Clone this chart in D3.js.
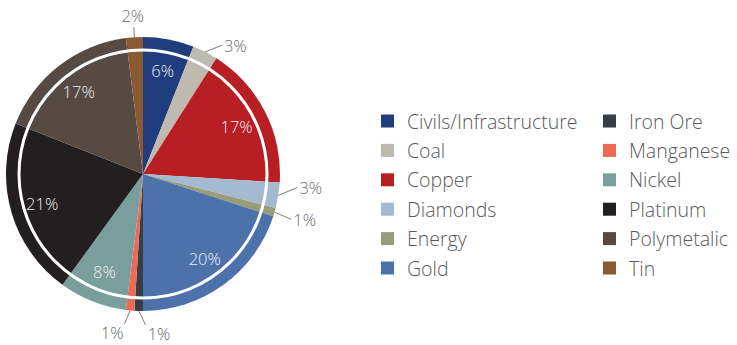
<!DOCTYPE html>
<html>
<head>
<meta charset="utf-8">
<style>
  body { margin: 0; background: #fff; }
  svg { display: block; font-family: "Open Sans", "Noto Sans", sans-serif; font-weight: 300; }
</style>
</head>
<body>
<svg width="737" height="345"></svg>
<script src="https://d3js.org/d3.v7.min.js"></script>
<script>

  var categories = ["Civils/Infrastructure", "Coal", "Copper", "Diamonds", "Energy", "Gold",
    "Iron Ore", "Manganese", "Nickel", "Platinum", "Polymetalic", "Tin"];
  var shares = [6, 3, 17, 3, 1, 20, 1, 1, 8, 21, 17, 2];
  var colors = ["#203d7e", "#bfbab0", "#b81f25", "#a3bad0", "#999c78", "#4d72ab",
    "#363f45", "#ee6a55", "#7a9e9c", "#231f20", "#574a42", "#8a5a35"];

  // slices whose label sits outside, with the angle (deg) the leader line points to
  var outsideLabels = { "Coal": 31.5, "Diamonds": 95, "Energy": 107, "Iron Ore": 179, "Manganese": 187, "Tin": 356.4 };

  var svg = d3.select("svg"),
    cx = 143, cy = 174,
    radius = 137,
    ringRadius = 124,
    labelRadius = 105;

  var data = categories.map(function (c, i) { return { name: c, value: shares[i], color: colors[i] }; });

  var pie = d3.pie().sort(null).value(function (d) { return d.value; });
  var arcs = pie(data);

  var arc = d3.arc().innerRadius(0).outerRadius(radius);
  var labelArc = d3.arc().innerRadius(labelRadius).outerRadius(labelRadius);

  var g = svg.append("g").attr("transform", "translate(" + cx + "," + cy + ")");

  g.selectAll("path.slice")
    .data(arcs)
    .enter().append("path")
    .attr("class", "slice")
    .attr("d", arc)
    .attr("fill", function (d) { return d.data.color; });

  g.append("circle")
    .attr("r", ringRadius)
    .attr("fill", "none")
    .attr("stroke", "#fff")
    .attr("stroke-width", 3);

  function fmt(d) { return d.data.value + "%"; }

  // inside labels
  g.selectAll("text.inside")
    .data(arcs.filter(function (d) { return !(d.data.name in outsideLabels); }))
    .enter().append("text")
    .attr("class", "inside")
    .attr("transform", function (d) { return "translate(" + labelArc.centroid(d) + ")"; })
    .attr("text-anchor", "middle")
    .attr("dominant-baseline", "central")
    .attr("fill", "#f2f2f2")
    .style("font-size", "16.5px")
    .text(fmt);

  // outside labels with leader lines
  var outs = arcs.filter(function (d) { return d.data.name in outsideLabels; });

  function polar(angleDeg, r) {
    var a = angleDeg * Math.PI / 180;
    return [r * Math.sin(a), -r * Math.cos(a)];
  }

  outs.forEach(function (d) {
    var mid = (d.startAngle + d.endAngle) / 2 * 180 / Math.PI;
    var endAngle = outsideLabels[d.data.name];
    var p0 = polar(mid, radius);
    var p1 = polar(endAngle, endAngle > 60 && endAngle < 120 ? 155 : endAngle > 340 ? 147 : 151);

    g.append("line")
      .attr("x1", p0[0]).attr("y1", p0[1])
      .attr("x2", p1[0]).attr("y2", p1[1])
      .attr("stroke", "#7f7f7f")
      .attr("stroke-width", 1);

    var t = g.append("text")
      .attr("fill", "#6a6a6a")
      .attr("dominant-baseline", "central")
      .style("font-size", "16.5px")
      .text(fmt(d));

    if (endAngle > 340) {
      t.attr("x", p1[0] - 1).attr("y", p1[1] - 12).attr("text-anchor", "middle");
    } else if (endAngle >= 160 && endAngle < 180) {
      t.attr("x", p1[0] + 2).attr("y", p1[1] + 9).attr("text-anchor", "start");
    } else if (endAngle >= 180 && endAngle < 200) {
      t.attr("x", p1[0] - 1).attr("y", p1[1] + 9).attr("text-anchor", "end");
    } else {
      t.attr("x", p1[0] + 2).attr("y", p1[1]).attr("text-anchor", "start");
    }
  });

  // legend
  var legend = svg.append("g").attr("transform", "translate(381,121)");
  var rowH = 29.4, colW = 222;

  var item = legend.selectAll("g.item")
    .data(data)
    .enter().append("g")
    .attr("class", "item")
    .attr("transform", function (d, i) {
      return "translate(" + (Math.floor(i / 6) * colW) + "," + ((i % 6) * rowH) + ")";
    });

  item.append("rect")
    .attr("x", 0).attr("y", -6.5)
    .attr("width", 13).attr("height", 13)
    .attr("fill", function (d) { return d.color; });

  item.append("text")
    .attr("x", 26).attr("y", 0)
    .attr("dominant-baseline", "central")
    .attr("fill", "#5a5a5a")
    .style("font-size", "19.5px")
    .text(function (d) { return d.name; });

</script>
</body>
</html>
